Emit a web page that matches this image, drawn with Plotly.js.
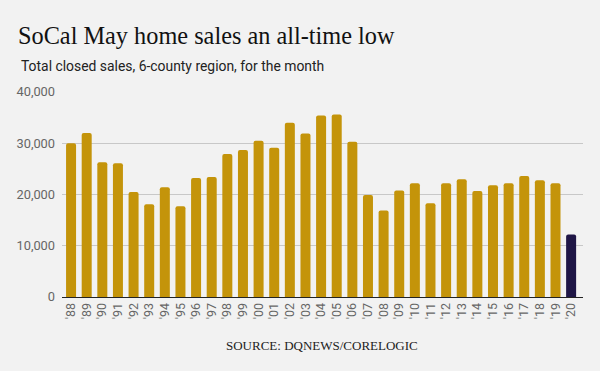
<!DOCTYPE html>
<html><head><meta charset="utf-8">
<script src="https://cdn.plot.ly/plotly-3.0.1.min.js"></script>
<style>html,body{margin:0;padding:0;background:#f2f2f2;}</style>
</head><body>
<div id="chart" style="width:600px;height:371px;"></div>
<script>
const years = ["'88","'89","'90","'91","'92","'93","'94","'95","'96","'97","'98","'99","'00","'01","'02","'03","'04","'05","'06","'07","'08","'09","'10","'11","'12","'13","'14","'15","'16","'17","'18","'19","'20"];
const sales = [30000,32000,26300,26100,20500,18100,21400,17700,23200,23400,27900,28700,30500,29100,34000,31900,35400,35600,30300,19900,16900,20800,22200,18300,22200,23000,20700,21800,22200,23600,22800,22200,12200];
const gold = '#c4940a';
const navy = '#1f1646';
const colors = years.map((y,i)=> i===years.length-1 ? navy : gold);

const trace = {type:'bar', x: years, y: sales, marker:{color: colors, cornerradius: 2}, hoverinfo:'none'};
const layout = {
  width:600, height:371,
  paper_bgcolor:'#f2f2f2', plot_bgcolor:'#f2f2f2',
  margin:{l:62, r:17, t:92, b:74},
  bargap:0.36,
  showlegend:false,
  title:{text:'SoCal May home sales an all-time low', font:{family:'Liberation Serif, DejaVu Serif, serif', size:24.3, color:'#111'}, xref:'container', yref:'container', x:18/600, xanchor:'left', y:1-35/371, yanchor:'middle'},
  xaxis:{type:'category', range:[-0.58, 32.76], tickangle:-90, tickfont:{family:'Roboto', size:12.5, color:'#666'}, showline:true, linecolor:'#222', linewidth:1, ticks:'', showgrid:false, automargin:false},
  yaxis:{range:[0,40000], tickvals:[0,10000,20000,30000,40000], tickformat:',d', tickfont:{family:'Roboto', size:12.8, color:'#666'}, gridcolor:'#c8c8c8', zeroline:false, ticks:'', automargin:false, ticklabelstandoff:6},
  annotations:[
    {text:'Total closed sales, 6-county region, for the month', xref:'paper', yref:'paper', x:-62/521 + 19/521, y:1+26/205, xanchor:'left', yanchor:'middle', showarrow:false, font:{family:'Roboto', size:13.9, color:'#222'}},
    {text:'SOURCE: DQNEWS/CORELOGIC', xref:'paper', yref:'paper', x:(322-62)/521, y:-48/205, xanchor:'center', yanchor:'middle', showarrow:false, font:{family:'Liberation Serif, DejaVu Serif, serif', size:13, color:'#222'}}
  ]
};
Plotly.newPlot('chart',[trace],layout,{displayModeBar:false, staticPlot:true});
</script>
</body></html>
